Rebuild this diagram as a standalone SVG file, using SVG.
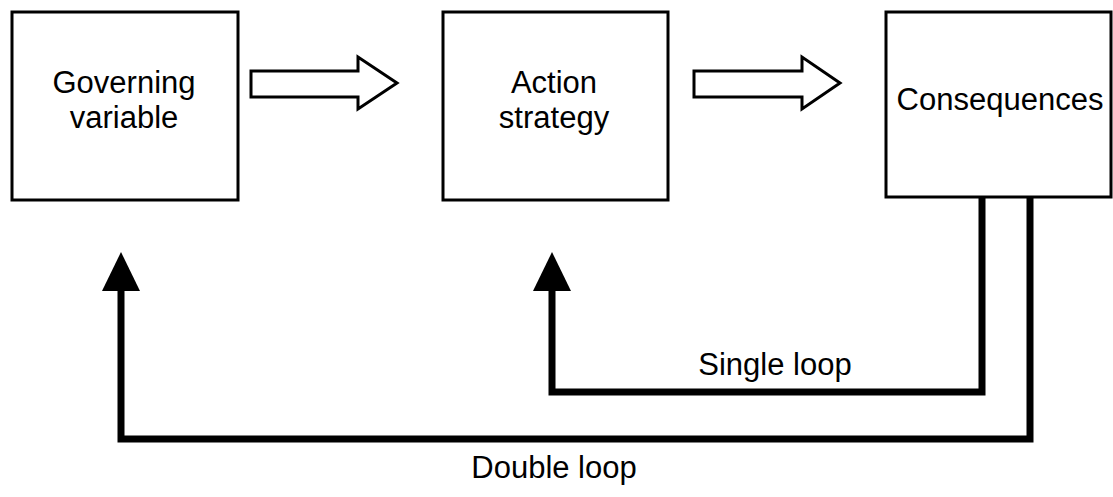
<svg xmlns="http://www.w3.org/2000/svg" width="1113" height="497" viewBox="0 0 1113 497">
<style>
.box{fill:#fff;stroke:#000;stroke-width:3}
.lbl{font-family:"Liberation Sans",Arial,sans-serif;font-size:31px;fill:#000;text-anchor:middle}
.hollow{fill:#fff;stroke:#000;stroke-width:3;stroke-linejoin:miter}
.loop{fill:none;stroke:#000;stroke-width:7;stroke-linejoin:miter}
.head{fill:#000}
</style>
<rect width="1113" height="497" fill="#fff"/>
<g id="node-governing">
<rect class="box" x="12" y="12" width="226" height="188"/>
<text class="lbl" x="124" y="93">Governing</text>
<text class="lbl" x="124" y="128">variable</text>
</g>
<g id="node-action">
<rect class="box" x="443" y="12" width="225" height="188"/>
<text class="lbl" x="554" y="93">Action</text>
<text class="lbl" x="554" y="128">strategy</text>
</g>
<g id="node-consequences">
<rect class="box" x="886" y="12" width="225" height="185"/>
<text class="lbl" x="1000" y="110">Consequences</text>
</g>
<g id="connectors">
<polygon class="hollow" points="251,71 358,71 358,57 397,83 358,109 358,97 251,97"/>
<polygon class="hollow" points="694,71 802,71 802,57 840,83 802,109 802,97 694,97"/>
<path class="loop" d="M982,198 V392 H552 V288"/>
<polygon class="head" points="533,291 552,252 571,291"/>
<path class="loop" d="M1030,198 V439 H121 V288"/>
<polygon class="head" points="102,291 121,252 140,291"/>
<text class="lbl" x="775" y="375">Single loop</text>
<text class="lbl" x="554" y="478">Double loop</text>
</g>
</svg>
